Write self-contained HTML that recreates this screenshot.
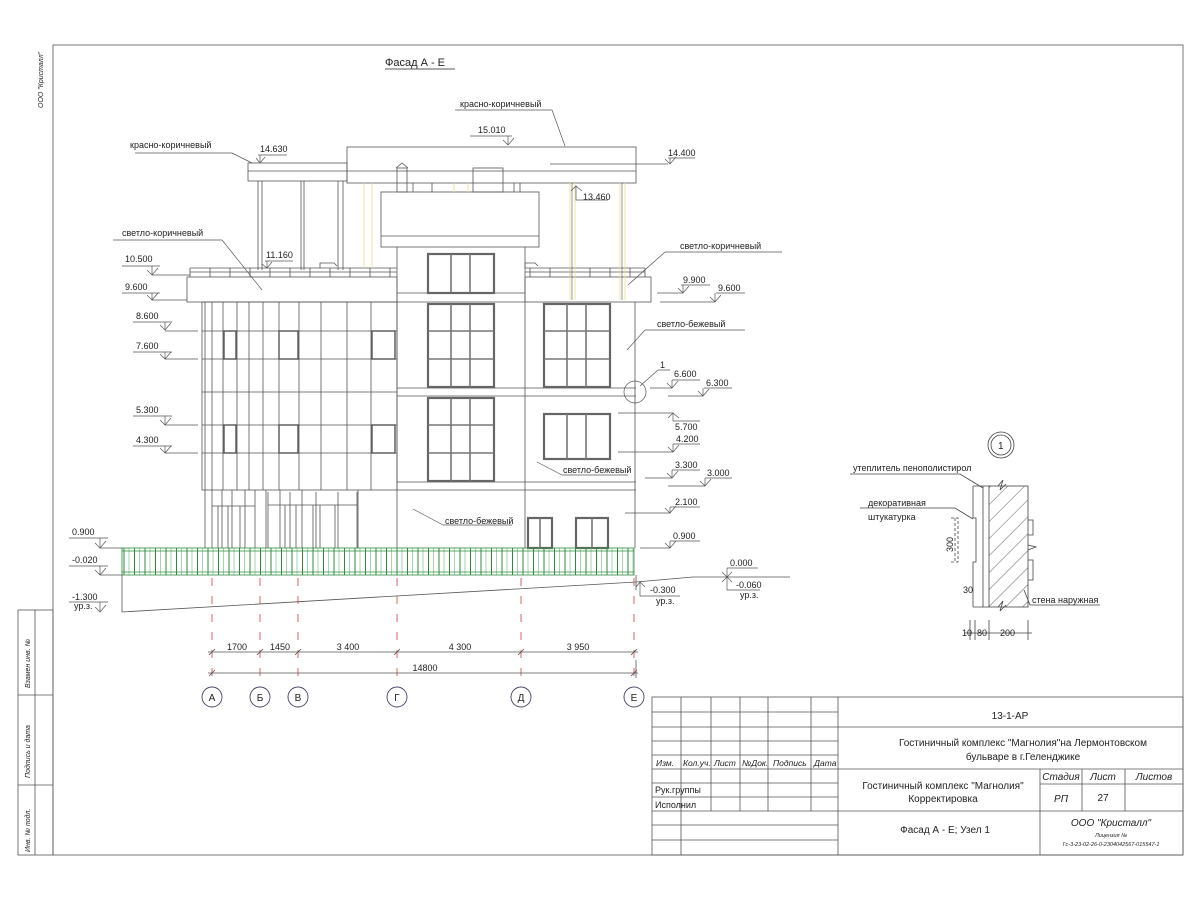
<!DOCTYPE html>
<html><head><meta charset="utf-8"><style>
html,body{margin:0;padding:0;background:#fff;}
svg{display:block;font-family:"Liberation Sans","DejaVu Sans",sans-serif;}
text{fill:#222;}
</style></head><body>
<svg width="1200" height="900" viewBox="0 0 1200 900" xmlns="http://www.w3.org/2000/svg">
<defs>
<pattern id="rail" x="122" y="0" width="10.5" height="900" patternUnits="userSpaceOnUse">
<line x1="2" y1="0" x2="2" y2="900" stroke="#2e8b3e" stroke-width="1"/>
<line x1="7" y1="0" x2="7" y2="900" stroke="#7cc48a" stroke-width="0.7"/>
</pattern>
<pattern id="hatch" width="12" height="12" patternUnits="userSpaceOnUse" patternTransform="rotate(45)">
<line x1="0" y1="0" x2="0" y2="12" stroke="#333" stroke-width="0.8"/>
</pattern>
</defs>
<g fill="none" stroke="#555" stroke-width="0.8">
<rect x="53" y="45" width="1130" height="810"/>
<rect x="18" y="610" width="35" height="245"/>
<line x1="35" y1="610" x2="35" y2="855"/>
<line x1="18" y1="695" x2="53" y2="695"/>
<line x1="18" y1="785" x2="53" y2="785"/>
</g>
<g font-size="7" font-style="italic">
<text transform="translate(43,108) rotate(-90)">ООО "Кристалл"</text>
<text transform="translate(30,688) rotate(-90)">Взамен инв. №</text>
<text transform="translate(30,778) rotate(-90)">Подпись и дата</text>
<text transform="translate(30,852) rotate(-90)">Инв. № подл.</text>
</g>
<text x="385" y="66" font-size="11">Фасад  А - Е</text>
<line x1="385" y1="69" x2="455" y2="69" stroke="#222" stroke-width="0.8"/>

<g fill="none" stroke="#555" stroke-width="0.8">
<rect x="347" y="147" width="289" height="36"/>
<line x1="347" y1="171" x2="636" y2="171"/>
<line x1="550" y1="164" x2="668" y2="164"/>
<rect x="248" y="163" width="99" height="18"/>
<line x1="248" y1="171" x2="347" y2="171"/>
<line x1="258" y1="181" x2="258" y2="270"/><line x1="262" y1="181" x2="262" y2="270"/>
<line x1="301" y1="181" x2="301" y2="270"/><line x1="304" y1="181" x2="304" y2="270"/>
<line x1="338" y1="181" x2="338" y2="270"/><line x1="343" y1="181" x2="343" y2="270"/>
<rect x="397" y="168" width="10" height="24"/>
<path d="M396 168 L402 163 L408 168"/>
<rect x="473" y="168" width="30" height="24"/>
<line x1="413" y1="183" x2="413" y2="192"/><line x1="432" y1="183" x2="432" y2="192"/>
<line x1="514" y1="183" x2="514" y2="192"/><line x1="520" y1="183" x2="520" y2="192"/>
<rect x="381" y="192" width="158" height="55"/>
<line x1="381" y1="236" x2="539" y2="236"/>
<rect x="187" y="277" width="210" height="25"/>
<rect x="525" y="277" width="126" height="25"/>
<line x1="190" y1="268" x2="397" y2="268"/><line x1="190" y1="272" x2="397" y2="272"/>
<line x1="525" y1="268" x2="645" y2="268"/><line x1="525" y1="272" x2="645" y2="272"/>
<path d="M190 268 V277 M210 268 V277 M230 268 V277 M250 268 V277 M270 268 V277 M290 268 V277 M310 268 V277 M330 268 V277 M350 268 V277 M370 268 V277 M390 268 V277"/>
<path d="M530 268 V277 M550 268 V277 M570 268 V277 M590 268 V277 M610 268 V277 M630 268 V277 M645 268 V277"/>
<path d="M320 268 V263 H334 L337 266"/><path d="M525 268 V263 H535 L538 266"/>
<rect x="202" y="302" width="195" height="188"/>
<path d="M205 302V490 M212 302V490 M223 302V490 M237 302V490 M249 302V490 M263 302V490 M279 302V490 M299 302V490 M321 302V490 M347 302V490 M371 302V490"/>
<path d="M202 331H397 M202 359H397 M202 392H397 M202 425H397 M202 453H397"/>
</g>
<g fill="#fff" stroke="#555" stroke-width="1.4">
<rect x="224" y="331" width="12" height="28"/><rect x="279" y="331" width="19" height="28"/><rect x="372" y="331" width="23" height="28"/>
<rect x="224" y="425" width="12" height="28"/><rect x="279" y="425" width="19" height="28"/><rect x="372" y="425" width="23" height="28"/>
</g>
<g fill="none" stroke="#555" stroke-width="0.8">
<line x1="397" y1="247" x2="397" y2="548"/><line x1="525" y1="247" x2="525" y2="548"/>
<line x1="397" y1="293" x2="525" y2="293"/><line x1="397" y1="302" x2="525" y2="302"/>
<line x1="397" y1="388" x2="636" y2="388"/><line x1="397" y1="396" x2="636" y2="396"/>
<line x1="397" y1="482" x2="636" y2="482"/><line x1="397" y1="490" x2="636" y2="490"/>
<line x1="635" y1="302" x2="635" y2="548"/>
<line x1="205" y1="490" x2="205" y2="548"/><line x1="212" y1="490" x2="212" y2="548"/>
<line x1="255" y1="490" x2="255" y2="548"/><line x1="266" y1="490" x2="266" y2="548"/>
<line x1="358" y1="490" x2="358" y2="548"/>
<line x1="212" y1="506" x2="255" y2="506"/><line x1="268" y1="505" x2="357" y2="505"/>
<line x1="268" y1="492" x2="268" y2="548"/><line x1="357" y1="492" x2="357" y2="548"/>
<path d="M222 490V548 M232 490V548 M245 490V548 M280 490V548 M290 492V548 M302 490V548 M316 492V548 M338 492V548"/>
<path d="M218 506V548 M228 506V548 M240 506V548 M285 505V548 M296 505V548 M313 505V548 M320 505V548 M335 505V548"/>
</g>
<g fill="none" stroke="#666" stroke-width="2.2">
<rect x="428" y="254" width="66" height="39"/>
<rect x="428" y="304" width="66" height="83"/>
<rect x="428" y="398" width="66" height="83"/>
<rect x="544" y="304" width="66" height="83"/>
<rect x="544" y="414" width="66" height="45"/>
<rect x="528" y="518" width="24" height="30"/>
<rect x="576" y="518" width="32" height="30"/>
</g>
<g fill="none" stroke="#777" stroke-width="1.6">
<path d="M451 254V293 M470 254V293"/>
<path d="M451 304V387 M470 304V387 M428 331H494 M428 359H494"/>
<path d="M451 398V481 M470 398V481 M428 425H494 M428 453H494"/>
<path d="M567 304V387 M586 304V387 M544 331H610 M544 359H610"/>
<path d="M567 414V459 M586 414V459"/>
<path d="M540 518V548 M592 518V548"/>
</g>
<g stroke="#e6e28a" stroke-width="0.8">
<path d="M364 183V268 M372 183V268 M454 183V192 M468 183V192 M570 183V300 M575 183V300 M620 183V300 M625 183V300"/>
</g>
<g stroke="#555" stroke-width="0.6">
<path d="M572 183V300 M622 183V300"/>
</g>
<rect x="122" y="548" width="512" height="27" fill="url(#rail)" stroke="#2e8b3e" stroke-width="0.8"/>
<line x1="122" y1="551" x2="634" y2="551" stroke="#2e8b3e" stroke-width="0.8"/>
<line x1="122" y1="572" x2="634" y2="572" stroke="#2e8b3e" stroke-width="0.8"/>
<g fill="none" stroke="#555" stroke-width="0.8">
<line x1="122" y1="575" x2="122" y2="612"/>
<path d="M122 612 L636 582 L693 577 H790"/>
<line x1="636" y1="575" x2="636" y2="590"/>
</g>
<g stroke="#d04040" stroke-width="0.8" stroke-dasharray="8,10">
<path d="M212 578V686 M260 578V686 M298 578V686 M397 578V686 M521 578V686 M634 578V686"/>
</g>
<g fill="none" stroke="#555" stroke-width="0.8">
<line x1="208" y1="652" x2="638" y2="652"/>
<line x1="208" y1="673" x2="638" y2="673"/>
<path d="M209 655l6-6 M257 655l6-6 M295 655l6-6 M394 655l6-6 M518 655l6-6 M631 655l6-6 M209 676l6-6 M631 676l6-6"/>
<line x1="636" y1="660" x2="636" y2="678"/>
</g>
<g fill="none" stroke="#446" stroke-width="0.9">
<circle cx="212" cy="697" r="10"/><circle cx="260" cy="697" r="10"/><circle cx="298" cy="697" r="10"/>
<circle cx="397" cy="697" r="10"/><circle cx="521" cy="697" r="10"/><circle cx="634" cy="697" r="10"/>
</g>
<g font-size="10" text-anchor="middle">
<text x="212" y="701">А</text><text x="260" y="701">Б</text><text x="298" y="701">В</text>
<text x="397" y="701">Г</text><text x="521" y="701">Д</text><text x="634" y="701">Е</text>
</g>
<g font-size="9" text-anchor="middle">
<text x="237" y="650">1700</text><text x="280" y="650">1450</text><text x="348" y="650">3 400</text>
<text x="460" y="650">4 300</text><text x="578" y="650" fill="#c03030">3 950</text>
<text x="425" y="671">14800</text>
</g>

<g fill="none" stroke="#555" stroke-width="0.7">
<path d="M122 266H160 M152 266V275 M147 270L152 275L158 268 M152 275H190"/>
<path d="M122 293H160 M152 293V300 M147 295L152 300L158 293 M152 300H187"/>
<path d="M133 322H172 M165 322V330 M160 325L165 330L171 323 M165 331H198"/>
<path d="M133 352H172 M165 352V359 M160 354L165 359L171 352 M165 359H198"/>
<path d="M133 416H172 M165 416V425 M160 420L165 425L171 418 M165 425H198"/>
<path d="M133 446H172 M165 446V453 M160 448L165 453L171 446 M165 453H198"/>
<path d="M69 538H108 M100 538V548 M95 543L100 548L106 541 M100 548H122"/>
<path d="M69 566H108 M100 566V575 M95 570L100 575L106 568 M100 575H122"/>
<path d="M69 602H108 M100 602V612 M95 607L100 612L106 605"/>
<path d="M668 158H695 M670 158V164 M665 159L670 164L676 157"/>
<path d="M681 285H710 M683 285V293 M678 288L683 293L689 286 M657 293H683"/>
<path d="M716 293H745 M715 293V302 M710 297L715 302L721 295 M660 302H715"/>
<path d="M672 380H700 M672 380V388 M667 383L672 388L678 381 M650 388H672"/>
<path d="M704 388H732 M703 388V396 M698 391L703 396L709 389 M668 396H703"/>
<path d="M618 413H673 M668 418L673 413L679 418 M673 413V421 H700"/>
<path d="M673 444H700 M673 444V452 M668 447L673 452L679 445 M618 452H673"/>
<path d="M672 470H700 M672 470V478 M667 473L672 478L678 471 M645 478H672"/>
<path d="M705 478H732 M705 478V486 M700 481L705 486L711 479 M668 486H705"/>
<path d="M670 507H700 M670 507V513 M665 508L670 513L676 506 M625 513H670"/>
<path d="M670 541H700 M670 541V548 M665 543L670 548L676 541 M640 548H670"/>
<path d="M727 568H758 M727 568V577 M722 572L732 582 M722 582L732 572 M727 577V590H760"/>
<path d="M640 582V596H680 M640 582L645 587 M640 582L636 587"/>
<path d="M576 186V200H608 M571 191L576 186L582 191"/>
<path d="M470 136H512 M508 136V145 M503 140L508 145L514 138"/>
<path d="M258 155H287 M260 155V162 M256 158L260 163L265 157"/>
<path d="M265 261H293 M267 261V268 M262 264L267 268L272 262"/>
<path d="M135 153H232 L252 163"/>
<path d="M113 240H222 L262 290"/>
<path d="M455 110H552 L565 146"/>
<path d="M665 252H782 M665 252L628 285"/>
<path d="M645 330H745 M645 330L627 350"/>
<path d="M658 370H670 M658 370L640 386"/>
<circle cx="635" cy="392" r="11"/>
<path d="M562 475H628 M562 475L537 462"/>
<path d="M443 525H512 M443 525L413 509"/>
</g>
<g font-size="9">
<text x="125" y="262">10.500</text><text x="125" y="290">9.600</text>
<text x="136" y="319">8.600</text><text x="136" y="349">7.600</text>
<text x="136" y="413">5.300</text><text x="136" y="443">4.300</text>
<text x="72" y="535">0.900</text><text x="72" y="563">-0.020</text>
<text x="72" y="600">-1.300</text><text x="74" y="609">ур.з.</text>
<text x="668" y="156">14.400</text><text x="583" y="200">13.460</text>
<text x="478" y="133">15.010</text><text x="260" y="152">14.630</text><text x="266" y="258">11.160</text>
<text x="683" y="283">9.900</text><text x="718" y="291">9.600</text>
<text x="674" y="377">6.600</text><text x="706" y="386">6.300</text>
<text x="675" y="430">5.700</text><text x="676" y="442">4.200</text>
<text x="675" y="468">3.300</text><text x="707" y="476">3.000</text>
<text x="675" y="505">2.100</text><text x="673" y="539">0.900</text>
<text x="730" y="566">0.000</text><text x="736" y="588">-0.060</text><text x="740" y="598">ур.з.</text>
<text x="650" y="593">-0.300</text><text x="656" y="604">ур.з.</text>
<text x="660" y="368">1</text>
<text x="130" y="148">красно-коричневый</text>
<text x="460" y="107">красно-коричневый</text>
<text x="122" y="236">светло-коричневый</text>
<text x="680" y="249">светло-коричневый</text>
<text x="657" y="327">светло-бежевый</text>
<text x="563" y="473">светло-бежевый</text>
<text x="445" y="524">светло-бежевый</text>
</g>

<g fill="none" stroke="#444" stroke-width="0.8">
<circle cx="1001" cy="445" r="13"/><circle cx="1001" cy="445" r="10"/>
<rect x="989" y="486" width="39" height="121" fill="url(#hatch)"/>
<path d="M983 486V607 M973 486V518 H976 V562 H973 V607 M973 486H989 M973 607H989"/>
<path d="M998 486 L1003 480 L1000 490 L1006 484"/>
<path d="M998 607 L1003 601 L1000 611 L1006 605"/>
<path d="M1028 520H1033V535H1028 M1028 550L1036 547L1028 545 M1028 560H1033V580H1028"/>
<path d="M850 474H960 L983 488"/>
<path d="M860 508H955 L973 519"/>
<path d="M951 518H958 V562 H951 M955 518V562" stroke-dasharray="3,2"/>
<path d="M1024 590L1030 605H1100"/>
<path d="M970 620V640 M975 620V640 M989 620V640 M1028 620V640 M965 633H1032"/>
</g>
<g font-size="9">
<text x="998" y="449" font-size="10">1</text>
<text x="853" y="471">утеплитель пенополистирол</text>
<text x="868" y="506">декоративная</text>
<text x="868" y="520">штукатурка</text>
<text transform="translate(953,552) rotate(-90)">300</text>
<text x="963" y="593" fill="#2233aa">30</text>
<text x="1032" y="603">стена наружная</text>
<text x="962" y="636">10</text><text x="977" y="636">80</text><text x="1000" y="636">200</text>
</g>

<g fill="none" stroke="#555" stroke-width="0.8">
<rect x="652" y="697" width="531" height="158"/>
<path d="M681 697V855 M711 697V811 M740 697V811 M768 697V811 M811 697V811 M838 697V855"/>
<path d="M652 712H838 M652 727H1183 M652 741H838 M652 755H838 M652 769H1183 M652 783H838 M652 797H838 M652 811H1183 M652 825H838 M652 840H838"/>
<path d="M1040 769V855 M1082 769V811 M1125 769V811 M1040 784H1183"/>
</g>
<g font-size="9">
<g font-style="italic" font-size="8.5">
<text x="656" y="766">Изм.</text><text x="683" y="766">Кол.уч.</text><text x="714" y="766">Лист</text>
<text x="742" y="766">№Док.</text><text x="773" y="766">Подпись</text><text x="814" y="766">Дата</text>
</g>
<text x="655" y="793">Рук.группы</text>
<text x="655" y="808">Исполнил</text>
<text x="1010" y="719" text-anchor="middle" font-size="10">13-1-АР</text>
<text x="1023" y="746" text-anchor="middle" font-size="10">Гостиничный комплекс "Магнолия"на Лермонтовском</text>
<text x="1023" y="760" text-anchor="middle" font-size="10">бульваре в г.Геленджике</text>
<text x="943" y="789" text-anchor="middle" font-size="10">Гостиничный комплекс "Магнолия"</text>
<text x="943" y="802" text-anchor="middle" font-size="10">Корректировка</text>
<g font-style="italic" font-size="10" text-anchor="middle">
<text x="1061" y="780">Стадия</text><text x="1103" y="780">Лист</text><text x="1154" y="780">Листов</text>
<text x="1061" y="802">РП</text>
</g>
<text x="1103" y="801" text-anchor="middle" font-size="10">27</text>
<text x="945" y="833" text-anchor="middle" font-size="10">Фасад  А - Е; Узел 1</text>
<text x="1111" y="826" text-anchor="middle" font-style="italic" font-size="10">ООО "Кристалл"</text>
<text x="1111" y="837" text-anchor="middle" font-style="italic" font-size="5.5">Лицензия №</text>
<text x="1111" y="846" text-anchor="middle" font-style="italic" font-size="5.5">Гс-3-23-02-26-0-2304042567-015547-1</text>
</g>
</svg>
</body></html>
